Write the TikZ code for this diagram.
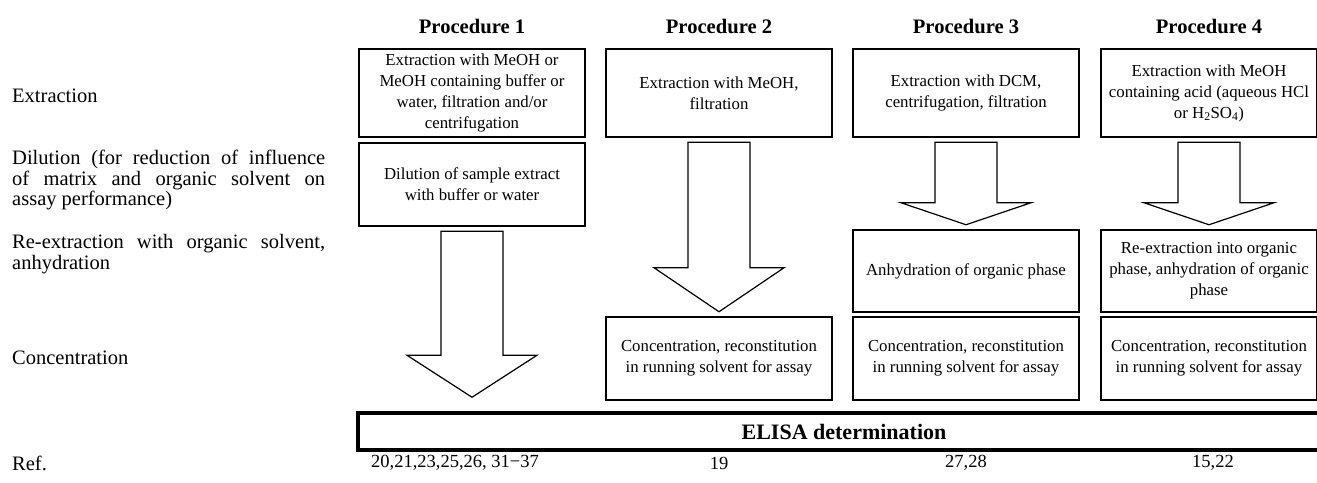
\documentclass[tikz,border=0pt]{standalone}
\usepackage{fontspec}
\setmainfont{Liberation Serif}
\usetikzlibrary{
  calc,
  positioning
}

% block arrow from the box #1 down to the box #2, head length #3, gap #4
\newcommand{\fatarrow}[4]{%
  \draw[fatline] let \p1=(#1.south), \p2=(#1.south |- #2.north) in
    (\x1-31pt,\y1-4pt) -- (\x1+31pt,\y1-4pt) -- (\x1+31pt,\y2+#4+#3)
    -- (\x1+65pt,\y2+#4+#3) -- (\x1,\y2+#4) -- (\x1-65pt,\y2+#4+#3)
    -- (\x1-31pt,\y2+#4+#3) -- cycle;}

\begin{document}
\begin{tikzpicture}[
      x=1pt,y=-1pt,
      stepbox/.style={
         rectangle,
         draw,
         line width=2.5pt,
         minimum width=226pt,
         align=center,
         inner sep=2pt,
         font={\fontsize{16.8}{21}\selectfont}
      },
      rowlabel/.style={
         anchor=west,
         inner sep=0pt,
         text width=313pt,
         align=justify,
         font={\fontsize{20.5}{20.5}\selectfont}
      },
      proctitle/.style={inner sep=0pt,font={\fontsize{20.6}{24}\selectfont\bfseries}},
      refnum/.style={inner sep=0pt,font={\fontsize{18.5}{20}\selectfont}},
      fatline/.style={draw,line width=1.2pt,line join=miter}
    ]
    \useasboundingbox (0,0) rectangle (1317,482);
    \clip (0,0) rectangle (1317,482);

    % row labels
    \node (lext) [rowlabel] at (12,96) {Extraction};
    \node (ldil) [rowlabel] at (12,180) {Dilution (for reduction of influence\linebreak
      of matrix and organic solvent on\linebreak assay performance)};
    \node (lrex) [rowlabel] at (12,254) {Re-extraction with organic solvent,\linebreak anhydration};
    \node (lcon) [rowlabel] at (12,358) {Concentration};
    \node (lref) [rowlabel] at (12,463) {Ref.};

    % extraction
    \node (e1) [stepbox,minimum height=88pt] at (472,93)
      {Extraction with MeOH or\\MeOH containing buffer or\\water, filtration and/or\\centrifugation};
    \node (e2) [stepbox,minimum height=88pt] at (719,93) {Extraction with MeOH,\\filtration};
    \node (e3) [stepbox,minimum height=88pt] at (966,93) {Extraction with DCM,\\centrifugation, filtration};
    \node (e4) [stepbox,minimum height=88pt,minimum width=216pt] at (1209,93)
      {Extraction with MeOH\\containing acid (aqueous HCl\\or H\textsubscript{2}SO\textsubscript{4})};

    % dilution / re-extraction / concentration
    \node (d1) [stepbox,minimum height=83pt] at (472,184.5) {Dilution of sample extract\\with buffer or water};
    \node (r3) [stepbox,minimum height=82pt] at (966,271) {Anhydration of organic phase};
    \node (r4) [stepbox,minimum height=82pt,minimum width=216pt] at (1209,271)
      {Re-extraction into organic\\phase, anhydration of organic\\phase};
    \node (c2) [stepbox,minimum height=83pt] at (719,358.5) {Concentration, reconstitution\\in running solvent for assay};
    \node (c3) [stepbox,minimum height=83pt] at (966,358.5) {Concentration, reconstitution\\in running solvent for assay};
    \node (c4) [stepbox,minimum height=83pt,minimum width=216pt] at (1209,358.5)
      {Concentration, reconstitution\\in running solvent for assay};

    \node (elisa) [rectangle,draw,line width=3.5pt,minimum width=972pt,minimum height=37pt,inner sep=0pt,
      font={\fontsize{22}{26}\selectfont\bfseries}] at (844,431.5) {ELISA determination};

    % titles
    \foreach \n in {1,...,4}
      \node (t\n) [proctitle,above=14pt of e\n] {Procedure \n};

    % references
    \node (ref1) [refnum] at ($(e1.south |- lref)+(-17pt,0)$) {20,21,23,25,26, 31−37};
    \node (ref2) [refnum] at (e2.south |- lref) {19};
    \node (ref3) [refnum] at (e3.south |- lref) {27,28};
    \node (ref4) [refnum] at ($(e4.south |- lref)+(4pt,0)$) {15,22};

    % arrows
    \fatarrow{d1}{elisa}{42pt}{14pt}
    \fatarrow{e2}{c2}{44pt}{4pt}
    \fatarrow{e3}{r3}{22pt}{4pt}
    \fatarrow{e4}{r4}{22pt}{4pt}
\end{tikzpicture}
\end{document}
